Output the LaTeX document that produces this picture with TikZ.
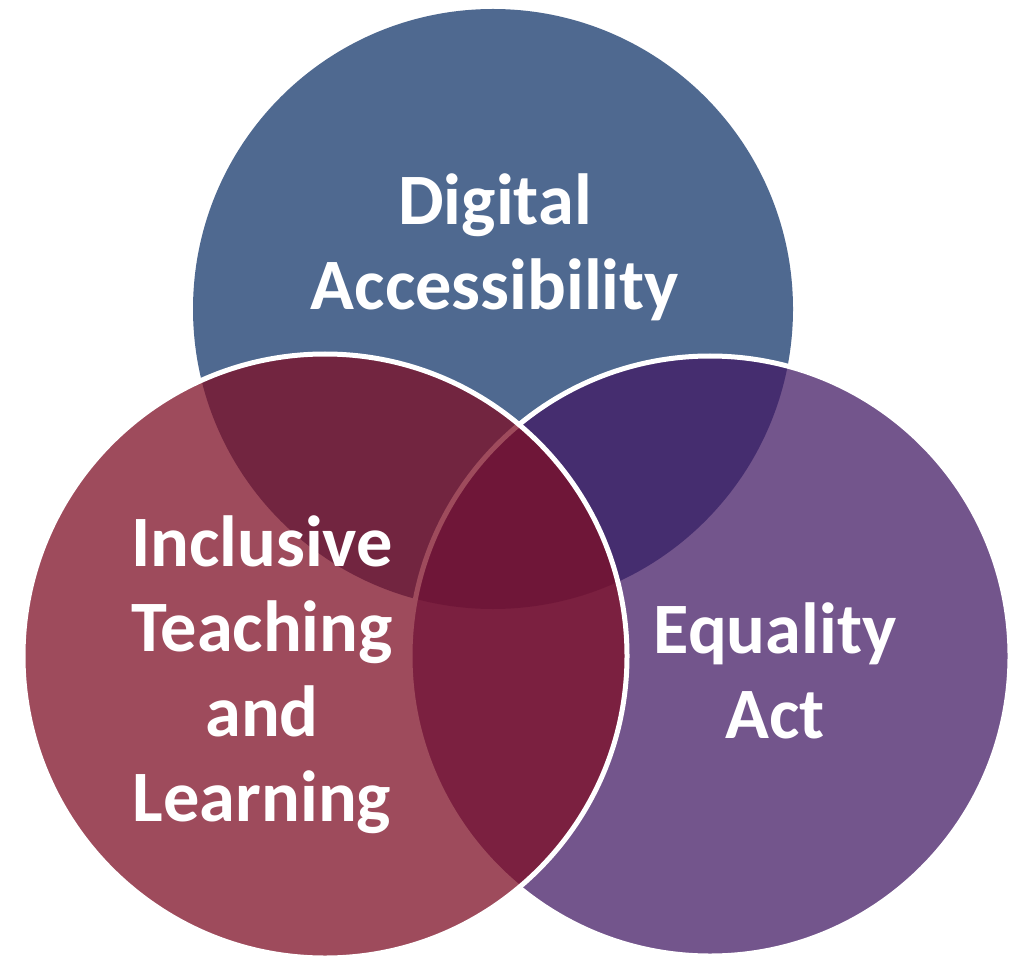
\documentclass[tikz,border=0pt]{standalone}
\usepackage{fontspec}
\setmainfont{Carlito}
\definecolor{DigitalBlue}{RGB}{79,105,144}
\definecolor{TeachRed}{RGB}{126,15,38}
\definecolor{ActPurple}{RGB}{66,25,100}

\begin{document}
\begin{tikzpicture}[
    vennring/.style={circle, minimum size=12cm, inner sep=0pt, line width=0.1cm},
    vennlabel/.style={text=white, font=\bfseries\fontsize{41.2}{48.3}\selectfont, align=center, anchor=base}
]
\useasboundingbox (0,0) rectangle (20.36,19.10);
% Circles
\node[vennring, fill=DigitalBlue] (digital) at (9.86,12.92) {};
\node[vennring, fill=ActPurple, fill opacity=0.74, draw=white] (equality) at (14.20,5.98) {};
\node[vennring, fill=TeachRed, fill opacity=0.75, draw=white, minimum size=12.08cm] (teaching) at (6.50,5.98) {};

% Labels (anchored on the last line)
\node[vennlabel] (digitaltext) at (9.90,12.91) {Digital\\Accessibility};
\node[vennlabel] (teachingtext) at (5.24,2.67) {Inclusive\\Teaching\\and\\Learning};
\node[vennlabel] (equalitytext) at (15.50,4.33) {Equality\\Act};
\end{tikzpicture}
\end{document}
